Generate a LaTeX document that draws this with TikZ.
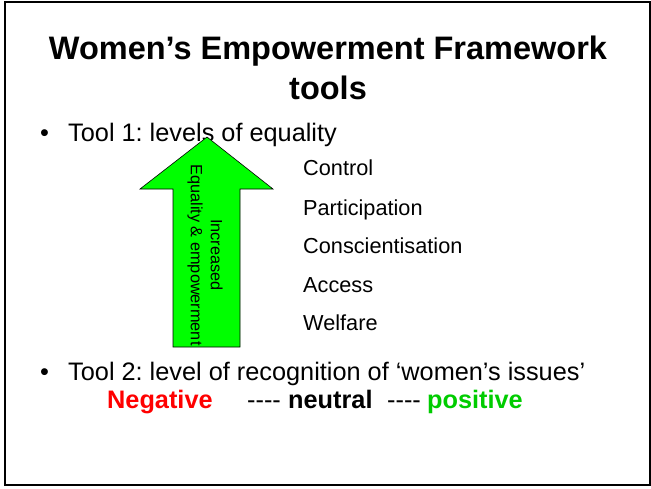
\documentclass[tikz,border=0pt]{standalone}
\usepackage{fontspec}
\setmainfont{Liberation Sans}
\frenchspacing
\definecolor{arrowgreen}{HTML}{00FF00}
\definecolor{posgreen}{HTML}{00CC00}
\newcommand{\fourdash}{-{}-{}-{}-}
\begin{document}
\begin{tikzpicture}[x=1pt,y=-1pt,
  txt/.style={inner sep=0pt,anchor=base west},
  ttl/.style={inner sep=0pt,anchor=base,font=\fontsize{32.5}{40}\selectfont\bfseries},
  body/.style={txt,font=\fontsize{25.3}{30}\selectfont},
  lvl/.style={txt,font=\fontsize{21.7}{26}\selectfont}]
\useasboundingbox (0,0) rectangle (651,488);
\draw[line width=2pt] (5,2) rectangle (650,485);
% title
\node[ttl] (t1) at (328,59) {Women’s Empowerment Framework};
\node[ttl] (t2) at (328,99) {tools};
% tool 1
\node[body] (b1) at (40,141) {•};
\node[body] (tool1) at (68,141) {Tool 1: levels of equality};
% arrow
\draw[fill=arrowgreen,draw=black,line width=0.6pt]
  (207,137) -- (273,189) -- (240,189) -- (240,347) -- (173,347) -- (173,189) -- (140,189) -- cycle;
\node[inner sep=0pt,rotate=-90,align=center,font=\fontsize{16.3}{20}\selectfont] (arrtxt) at (205,255)
  {Increased\\Equality \& empowerment};
% levels
\node[lvl] (l1) at (303,175) {Control};
\node[lvl] (l2) at (303,215) {Participation};
\node[lvl] (l3) at (303,253) {Conscientisation};
\node[lvl] (l4) at (303,292) {Access};
\node[lvl] (l5) at (303,330) {Welfare};
% tool 2
\node[body] (b2) at (40,380) {•};
\node[body] (tool2) at (68,380) {Tool 2: level of recognition of ‘women’s issues’};
\node[body,font=\fontsize{25.3}{30}\selectfont\bfseries,text=red] (neg) at (107,408) {Negative};
\node[body] (d1) at (247,408) {\fourdash};
\node[body,font=\fontsize{25.3}{30}\selectfont\bfseries] (neu) at (288,408) {neutral};
\node[body] (d2) at (387,408) {\fourdash};
\node[body,font=\fontsize{25.3}{30}\selectfont\bfseries,text=posgreen] (pos) at (427,408) {positive};
\end{tikzpicture}
\end{document}
